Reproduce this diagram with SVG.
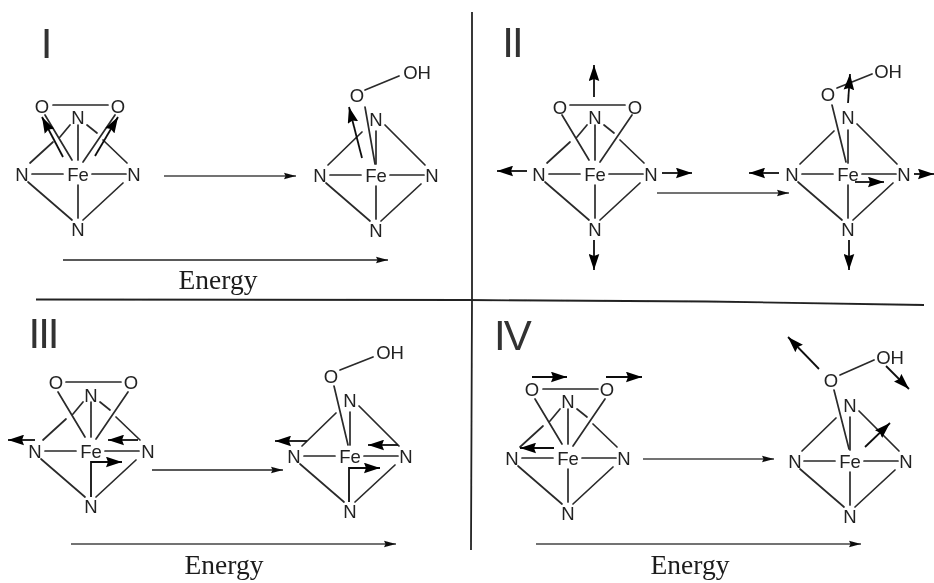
<svg xmlns="http://www.w3.org/2000/svg" width="934" height="583" viewBox="0 0 934 583">
<style>
.b{stroke:#2a2a2a;stroke-width:1.7;fill:none;stroke-linecap:round}
.a{font-family:"Liberation Sans",Arial,sans-serif;font-size:18.500px;fill:#222;text-anchor:middle}
.r{font-family:"Liberation Sans",Arial,sans-serif;font-size:42px;fill:#333;text-anchor:middle;letter-spacing:-2px}
.e{font-family:"Liberation Serif","Times New Roman",serif;font-size:27.5px;fill:#1c1c1c;text-anchor:middle}
.rx{stroke:#444;stroke-width:1.4;fill:none;marker-end:url(#thin)}
.en{stroke:#222;stroke-width:1.7;fill:none;marker-end:url(#thin)}
.v{stroke:#111;stroke-width:1.8;fill:none;marker-end:url(#bold)}
.f{stroke:#222;stroke-width:1.8;fill:none}
</style>
<defs>
<filter id="soft" x="0" y="0" width="100%" height="100%"><feGaussianBlur stdDeviation="0.4"/></filter>
<marker id="thin" markerUnits="userSpaceOnUse" markerWidth="13" markerHeight="8" refX="12" refY="4" orient="auto"><path d="M0 0.8L12 4L0 7.2L1.5 4Z" fill="#111"/></marker>
<marker id="bold" markerUnits="userSpaceOnUse" markerWidth="17" markerHeight="11" refX="16" refY="5.5" orient="auto"><path d="M0 0.2L16 5.5L0 10.800L2 5.5Z" fill="#000"/></marker>
<g id="base" class="b"><path d="M-46 0H-15M14 0H48M-50 8L-6 46M45 9L5 46"/></g>
<path id="vbot" class="b" d="M0 11V44"/>
<path id="side" class="b" d="M0-49V-14M-25-69H30M-6-14L-33-59M5-12L37-59M-48-11L-25-32M-18-37L-8-49M9-49L19-41M25-34L49-11"/>
<path id="end" class="b" d="M0-44V-11M-48-10L-14-43M9-50L49-10"/>
</defs>
<g filter="url(#soft)">
<g id="dividers">
<path class="f" d="M36 299.5L467 300L707 301.5L924 305"/>
<path class="f" d="M472 12V300L471 550"/>
</g>
<g id="label-I"><text class="r" x="45.5" y="58">I</text></g>
<g id="label-II"><text class="r" x="512" y="57">II</text></g>
<g id="label-III"><text class="r" x="43" y="348">III</text></g>
<g id="label-IV"><text class="r" x="494" y="350" style="text-anchor:start">IV</text></g>

<g id="complex-I-a" transform="translate(78,174)"><use href="#base"/><use href="#vbot"/><use href="#side"/>
<text class="a" x="0" y="6.5">Fe</text><text class="a" x="-56" y="6.5">N</text><text class="a" x="56" y="6.5">N</text><text class="a" x="0" y="-50">N</text><text class="a" x="0" y="62">N</text><text class="a" x="-36" y="-61.500">O</text><text class="a" x="40" y="-61.500">O</text></g>

<g id="complex-I-b" transform="translate(376,175)"><use href="#base"/><use href="#vbot"/><use href="#end"/><path class="b" d="M-11-68L-1-11M-11-85L23-99"/>
<text class="a" x="0" y="6.5">Fe</text><text class="a" x="-56" y="6.5">N</text><text class="a" x="56" y="6.5">N</text><text class="a" x="0" y="-49">N</text><text class="a" x="0" y="61.500">N</text><text class="a" x="-19" y="-73.500">O</text><text class="a" x="41" y="-96.500">OH</text></g>

<g id="complex-II-a" transform="translate(595,174)"><use href="#base"/><use href="#vbot"/><use href="#side"/>
<text class="a" x="0" y="6.5">Fe</text><text class="a" x="-56" y="6.5">N</text><text class="a" x="56" y="6.5">N</text><text class="a" x="0" y="-50">N</text><text class="a" x="0" y="62">N</text><text class="a" x="-35" y="-60.500">O</text><text class="a" x="40" y="-60.500">O</text></g>

<g id="complex-II-b" transform="translate(848,174)"><use href="#base"/><use href="#vbot"/><use href="#end"/><path class="b" d="M-16-69L-2-12M-11-86L24-100"/>
<text class="a" x="0" y="6.5">Fe</text><text class="a" x="-56" y="6.5">N</text><text class="a" x="56" y="6.5">N</text><text class="a" x="0" y="-50">N</text><text class="a" x="0" y="62">N</text><text class="a" x="-20" y="-73.500">O</text><text class="a" x="40" y="-96.500">OH</text></g>

<g id="complex-III-a" transform="translate(91,451)"><use href="#base"/><use href="#side"/>
<text class="a" x="0" y="6.5">Fe</text><text class="a" x="-56" y="6.5">N</text><text class="a" x="57" y="6.5">N</text><text class="a" x="0" y="-49">N</text><text class="a" x="0" y="62">N</text><text class="a" x="-35" y="-62.500">O</text><text class="a" x="40" y="-62.500">O</text></g>

<g id="complex-III-b" transform="translate(350,456)"><use href="#base"/><use href="#end"/><path class="b" d="M-16-70L-2-11M-10-86L23-99"/>
<text class="a" x="0" y="6.5">Fe</text><text class="a" x="-56" y="6.5">N</text><text class="a" x="56" y="6.5">N</text><text class="a" x="0" y="-49">N</text><text class="a" x="0" y="62">N</text><text class="a" x="-19" y="-73.500">O</text><text class="a" x="40" y="-97.500">OH</text></g>

<g id="complex-IV-a" transform="translate(568,458)"><use href="#base"/><use href="#vbot"/><use href="#side"/>
<text class="a" x="0" y="6.5">Fe</text><text class="a" x="-56" y="6.5">N</text><text class="a" x="56" y="6.5">N</text><text class="a" x="0" y="-50">N</text><text class="a" x="0" y="62">N</text><text class="a" x="-36" y="-62.500">O</text><text class="a" x="39" y="-62.500">O</text></g>

<g id="complex-IV-b" transform="translate(850,461)"><use href="#base"/><use href="#vbot"/><use href="#end"/><path class="b" d="M-16-71L-1-12M-10-86L24-101"/>
<text class="a" x="0" y="6.5">Fe</text><text class="a" x="-55" y="6.5">N</text><text class="a" x="56" y="6.5">N</text><text class="a" x="0" y="-49">N</text><text class="a" x="0" y="62">N</text><text class="a" x="-19" y="-74.500">O</text><text class="a" x="40" y="-97.500">OH</text></g>

<g id="connectors">
<path class="rx" d="M164 176H296"/>
<path class="rx" d="M657 193H789"/>
<path class="rx" d="M152 470H283" style="stroke:#222"/>
<path class="rx" d="M643 459H774"/>
<path class="en" d="M63 260H388"/>
<path class="rx" d="M71 544H396"/>
<path class="rx" d="M536 544H861"/>
<path class="v" d="M63 157L42 117"/><path class="v" d="M95 156L118 117"/>
<path class="v" d="M362 158L349 107"/>
<path class="v" d="M594 97V65"/><path class="v" d="M527 171H497"/><path class="v" d="M662 173H692"/><path class="v" d="M594 240V270"/>
<path class="v" d="M848 103L850 74"/><path class="v" d="M779 173H749"/><path class="v" d="M914 174H934"/><path class="v" d="M855 182H884"/><path class="v" d="M849 240V270"/>
<path class="v" d="M35 440H8"/><path class="v" d="M138 440H108"/><path class="v" d="M91 497V462H122"/>
<path class="v" d="M307 441H275"/><path class="v" d="M398 445H368"/><path class="v" d="M349 502V468H380"/>
<path class="v" d="M532 377H567"/><path class="v" d="M606 377H642"/><path class="v" d="M554 448H520"/>
<path class="v" d="M819 369L788 337"/><path class="v" d="M886 366L909 389"/><path class="v" d="M865 447L890 423"/>
</g>
<g id="energy-labels">
<text class="e" x="218" y="289">Energy</text>
<text class="e" x="224" y="574">Energy</text>
<text class="e" x="690" y="574">Energy</text>
</g>
</g>
</svg>
